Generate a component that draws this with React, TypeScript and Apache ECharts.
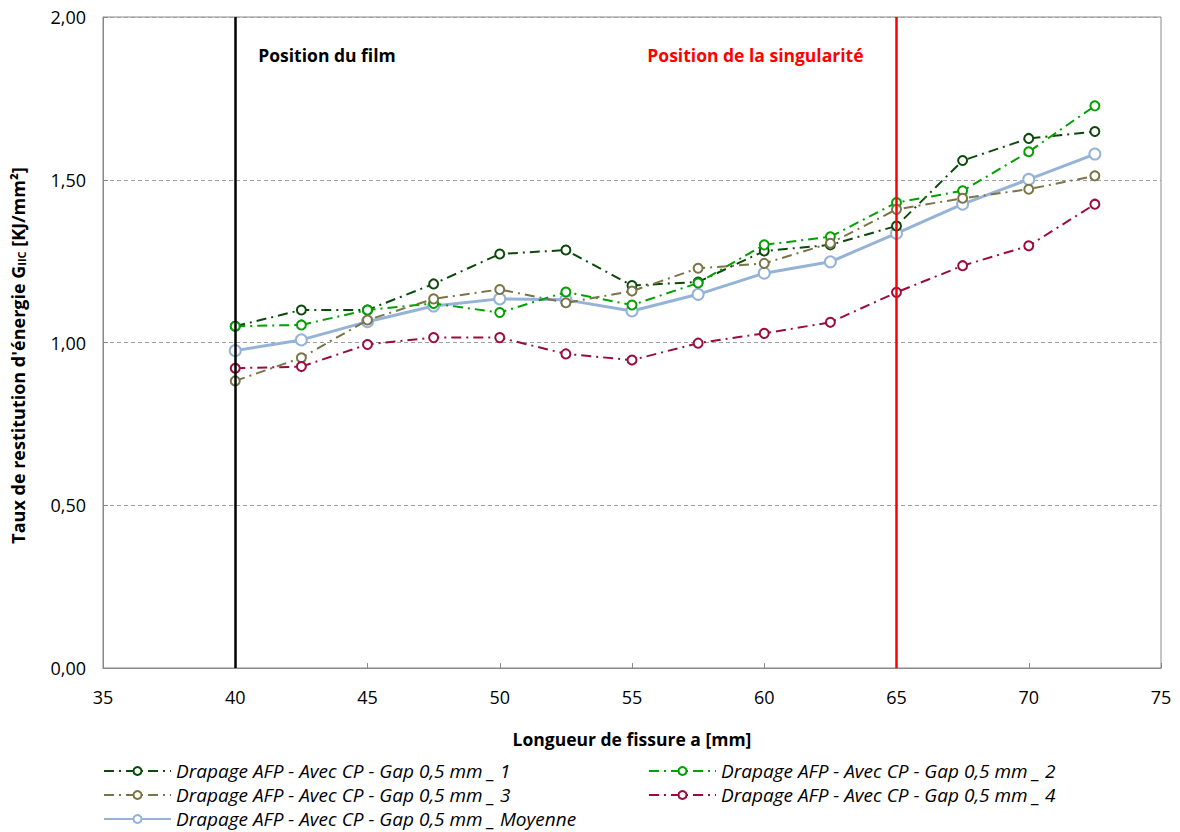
import React, { useEffect, useRef } from "react";
import * as echarts from "echarts";

const xValues = [40, 42.5, 45, 47.5, 50, 52.5, 55, 57.5, 60, 62.5, 65, 67.5, 70, 72.5];
const serie1 = [1.05, 1.1, 1.1, 1.18, 1.272, 1.284, 1.175, 1.186, 1.281, 1.3, 1.358, 1.559, 1.627, 1.648];
const serie2 = [1.05, 1.054, 1.1, 1.12, 1.092, 1.155, 1.115, 1.183, 1.3, 1.325, 1.43, 1.466, 1.586, 1.727];
const serie3 = [0.882, 0.953, 1.069, 1.134, 1.163, 1.122, 1.158, 1.228, 1.243, 1.305, 1.409, 1.443, 1.471, 1.512];
const serie4 = [0.921, 0.926, 0.994, 1.015, 1.015, 0.965, 0.946, 0.998, 1.028, 1.062, 1.154, 1.236, 1.297, 1.425];
const moyenne = [0.975, 1.008, 1.064, 1.112, 1.134, 1.131, 1.097, 1.148, 1.213, 1.248, 1.335, 1.425, 1.501, 1.579];

const names = [
  "Drapage AFP - Avec CP - Gap 0,5 mm _ 1",
  "Drapage AFP - Avec CP - Gap 0,5 mm _ 2",
  "Drapage AFP - Avec CP - Gap 0,5 mm _ 3",
  "Drapage AFP - Avec CP - Gap 0,5 mm _ 4",
  "Drapage AFP - Avec CP - Gap 0,5 mm _ Moyenne",
];
const colors = ["#0c4a0c", "#00a000", "#7a7448", "#9b0c3c", "#95b3d7"];
const filmPosition = 40;
const singularityPosition = 65;
const labelLevel = 1.883;

const FONT = "Open Sans";

export default function App() {
  const ref = useRef<HTMLDivElement>(null);
  useEffect(() => {
    if (!ref.current) return;
    const chart = echarts.init(ref.current, null, { renderer: "svg" });
    const dashed = [10, 5, 2, 5];
    const mk = (i: number, vals: number[]) => ({
      name: names[i],
      type: "line",
      data: xValues.map((x, k) => [x, vals[k]]),
      symbol: "emptyCircle",
      symbolSize: 9,
      itemStyle: { color: colors[i], borderWidth: 1.5 },
      lineStyle: { color: colors[i], width: 2, type: dashed },
      z: 3,
    });
    const series: any[] = [
      mk(0, serie1),
      mk(1, serie2),
      mk(2, serie3),
      mk(3, serie4),
      {
        name: names[4],
        type: "line",
        data: xValues.map((x, k) => [x, moyenne[k]]),
        symbol: "emptyCircle",
        symbolSize: 11,
        itemStyle: { color: colors[4], borderWidth: 2 },
        lineStyle: { color: colors[4], width: 3 },
        z: 2,
        markLine: {
          silent: true,
          symbol: "none",
          label: { show: false },
          data: [
            { xAxis: filmPosition, lineStyle: { color: "#000", width: 2.5, type: "solid" } },
            { xAxis: singularityPosition, lineStyle: { color: "#ff0000", width: 2.5, type: "solid" } },
          ],
        },
      },
    ];
    const axisFmt = (v: number) => v.toFixed(2).replace(".", ",");
    const legendText = { fontFamily: FONT, fontStyle: "italic", fontSize: 19, color: "#000", lineHeight: 20 };
    chart.setOption({
      animation: false,
      textStyle: { fontFamily: FONT },
      grid: {
        left: 103,
        right: 19,
        top: 17,
        bottom: 164,
        outerBoundsMode: "none",
        containLabel: false,
        show: true,
        borderColor: "#898989",
        borderWidth: 1,
      },
      xAxis: {
        type: "value",
        min: 35,
        max: 75,
        interval: 5,
        name: "Longueur de fissure a [mm]",
        nameLocation: "middle",
        nameGap: 62,
        nameTextStyle: { fontFamily: FONT, fontWeight: "bold", fontSize: 17.5, color: "#000" },
        axisLine: { lineStyle: { color: "#898989" } },
        axisTick: { show: true, inside: true, length: 5, lineStyle: { color: "#898989" } },
        axisLabel: { fontFamily: FONT, fontSize: 18, color: "#000", margin: 20 },
        splitLine: { show: false },
      },
      yAxis: {
        type: "value",
        min: 0,
        max: 2,
        interval: 0.5,
        name: "{a|Taux de restitution d'énergie G}{b|IIC}{a| [KJ/mm²]}",
        nameLocation: "middle",
        nameGap: 76,
        nameRotate: 90,
        nameTextStyle: {
          padding: [0, 26, 0, 0],
          rich: {
            a: { fontFamily: FONT, fontWeight: "bold", fontSize: 18, color: "#000", verticalAlign: "bottom", lineHeight: 24 },
            b: { fontFamily: FONT, fontWeight: "bold", fontSize: 11, color: "#000", verticalAlign: "bottom", lineHeight: 16 },
          },
        },
        axisLine: { show: true, lineStyle: { color: "#898989" } },
        axisTick: { show: true, inside: true, length: 5, lineStyle: { color: "#898989" } },
        axisLabel: { fontFamily: FONT, fontSize: 18, color: "#000", margin: 17, formatter: axisFmt },
        splitLine: { show: true, lineStyle: { color: "#a0a0a0", type: [4, 3], width: 1 } },
      },
      legend: [
        {
          data: [names[0], names[2], names[4]],
          orient: "vertical",
          left: 103,
          top: 761,
          padding: 0,
          itemWidth: 67,
          itemHeight: 10,
          itemGap: 4,
          textStyle: legendText,
        },
        {
          data: [names[1], names[3]],
          orient: "vertical",
          left: 648,
          top: 761,
          padding: 0,
          itemWidth: 67,
          itemHeight: 10,
          itemGap: 4,
          textStyle: legendText,
        },
      ],
      series,
    });
    const p1 = chart.convertToPixel({ gridIndex: 0 }, [filmPosition, labelLevel]) as number[];
    const p2 = chart.convertToPixel({ gridIndex: 0 }, [singularityPosition, labelLevel]) as number[];
    chart.setOption({
      graphic: [
        {
          type: "text",
          x: p1[0] + 23,
          y: p1[1],
          style: {
            text: "Position du film",
            fontFamily: FONT,
            fontWeight: "bold",
            fontSize: 17.5,
            fill: "#000",
            verticalAlign: "middle",
            textAlign: "left",
          },
        },
        {
          type: "text",
          x: p2[0] - 33,
          y: p2[1],
          style: {
            text: "Position de la singularité",
            fontFamily: FONT,
            fontWeight: "bold",
            fontSize: 17.5,
            fill: "#ff0000",
            verticalAlign: "middle",
            textAlign: "right",
          },
        },
      ],
    });
    return () => chart.dispose();
  }, []);
  return <div ref={ref} style={{ width: 1180, height: 832, position: "absolute", left: 0, top: 0 }} />;
}
